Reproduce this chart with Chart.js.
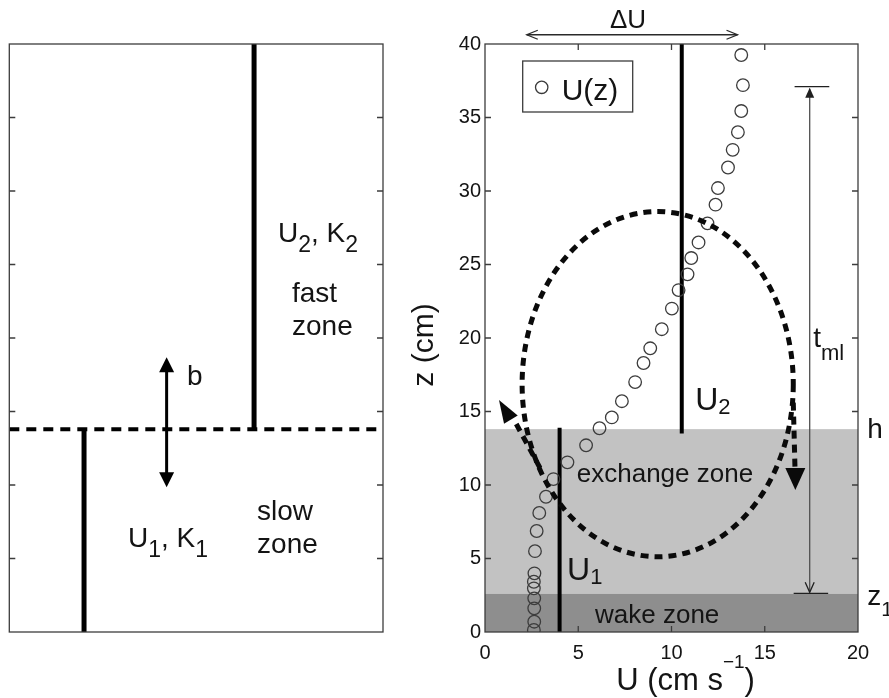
<!DOCTYPE html>
<html>
<head>
<meta charset="utf-8">
<script src="https://cdn.jsdelivr.net/npm/chart.js@4.4.1/dist/chart.umd.min.js"></script>
<style>
  html, body { margin: 0; padding: 0; background: #ffffff; }
  #wrap { position: relative; width: 889px; height: 698px; overflow: hidden; }
  canvas { position: absolute; top: 0; }
  #scheme { left: 0; }
  #profile { left: 400px; }
</style>
</head>
<body>
<div id="wrap">
  <canvas id="scheme" width="400" height="698"></canvas>
  <canvas id="profile" width="489" height="698"></canvas>
</div>
<script>
const FAMILY = '"Liberation Sans", Arial, Helvetica, sans-serif';
const INK = '#141414';
const FRAME = '#3c3c3c';

// ---- measured velocity profile U(z) ----
const profileU = [13.74, 13.83, 13.74, 13.56, 13.28, 13.03, 12.49, 12.36, 11.93, 11.45,
                  11.06, 10.86, 10.38, 10.02, 9.48, 8.86, 8.50, 8.05, 7.34, 6.80,
                  6.14, 5.42, 4.42, 3.67, 3.27, 2.91, 2.77, 2.68, 2.65, 2.62,
                  2.62, 2.64, 2.64, 2.64, 2.62];
const profileZ = [39.25, 37.20, 35.44, 34.00, 32.80, 31.60, 30.20, 29.07, 27.80, 26.50,
                  25.44, 24.33, 23.26, 22.00, 20.60, 19.30, 18.30, 17.00, 15.70, 14.60,
                  13.86, 12.70, 11.54, 10.40, 9.20, 8.10, 6.87, 5.50, 3.99, 3.42,
                  2.97, 2.29, 1.61, 0.70, 0.14];

// ---- two-layer velocities (cm/s) and the depth range of each ----
const layerU     = [4.0, 10.55];
const layerZFrom = [0, 13.5];
const layerZTo   = [13.9, 40];

// ---- zone boundaries (cm) ----
const canopyH = 13.8;   // h
const wakeZ1  = 2.6;    // z1

// ---- axis ticks ----
const uTicks = [0, 5, 10, 15, 20];
const zTicks = [0, 5, 10, 15, 20, 25, 30, 35, 40];

// ---- schematic two-zone model (left panel, arbitrary units 0-20) ----
const schemeU     = [4.0, 13.1];
const schemeZFrom = [0, 13.8];
const schemeZTo   = [13.8, 40];
const interfaceZ  = 13.8;

// ---------- drawing helpers ----------
function rich(ctx, x, y, parts, size, opt = {}) {
  const subScale = opt.subScale || 0.72, subShift = opt.subShift || 0.28;
  const supScale = opt.supScale || 0.6, supShift = opt.supShift || 0.72;
  const fontOf = k => `${k === 0 ? size : Math.round(size * (k === 1 ? subScale : supScale))}px ${FAMILY}`;
  let w = 0;
  parts.forEach(([t, k]) => { ctx.font = fontOf(k); w += ctx.measureText(t).width; });
  let cx = opt.align === 'center' ? x - w / 2 : x;
  ctx.textAlign = 'left';
  ctx.textBaseline = 'alphabetic';
  ctx.fillStyle = INK;
  parts.forEach(([t, k]) => {
    ctx.font = fontOf(k);
    const dy = k === 1 ? size * subShift : k === 2 ? -size * supShift : 0;
    ctx.fillText(t, cx, y + dy);
    cx += ctx.measureText(t).width;
  });
}

function filledHead(ctx, tx, ty, dx, dy, len, half) {
  const n = Math.hypot(dx, dy), ux = dx / n, uy = dy / n;
  const bx = tx - ux * len, by = ty - uy * len;
  ctx.beginPath();
  ctx.moveTo(tx, ty);
  ctx.lineTo(bx - uy * half, by + ux * half);
  ctx.lineTo(bx + uy * half, by - ux * half);
  ctx.closePath();
  ctx.fill();
}

function openHead(ctx, tx, ty, dx, dy, len, half) {
  const n = Math.hypot(dx, dy), ux = dx / n, uy = dy / n;
  const bx = tx - ux * len, by = ty - uy * len;
  ctx.beginPath();
  ctx.moveTo(bx - uy * half, by + ux * half);
  ctx.lineTo(tx, ty);
  ctx.lineTo(bx + uy * half, by - ux * half);
  ctx.stroke();
}

function frameAndTicks(ctx, area, xs, ys, xVals, yVals) {
  ctx.save();
  ctx.strokeStyle = FRAME;
  ctx.lineWidth = 1.3;
  const L = 6;
  ctx.beginPath();
  (yVals || []).forEach(v => {
    const py = ys.getPixelForValue(v);
    ctx.moveTo(area.left, py); ctx.lineTo(area.left + L, py);
    ctx.moveTo(area.right, py); ctx.lineTo(area.right - L, py);
  });
  (xVals || []).forEach(v => {
    const px = xs.getPixelForValue(v);
    ctx.moveTo(px, area.bottom); ctx.lineTo(px, area.bottom - L);
    ctx.moveTo(px, area.top); ctx.lineTo(px, area.top + L);
  });
  ctx.stroke();
  ctx.strokeRect(area.left, area.top, area.right - area.left, area.bottom - area.top);
  ctx.restore();
}

const segment = (u, z0, z1) => [{ x: u, y: z0 }, { x: u, y: z1 }];

// ---------- left panel: two-zone schematic ----------
const schemePlugin = {
  id: 'schemeDecor',
  afterDatasetsDraw(chart) {
    const { ctx, chartArea: a, scales: { x, y } } = chart;
    const P = (u, z) => [x.getPixelForValue(u), y.getPixelForValue(z)];
    ctx.save();
    // exchange length b
    const [bx, bTop] = P(8.42, 18.69);
    const [, bBot] = P(8.42, 9.84);
    ctx.strokeStyle = '#000'; ctx.fillStyle = '#000'; ctx.lineWidth = 3;
    ctx.beginPath(); ctx.moveTo(bx, bTop + 12); ctx.lineTo(bx, bBot - 12); ctx.stroke();
    filledHead(ctx, bx, bTop, 0, -1, 15, 7.5);
    filledHead(ctx, bx, bBot, 0, 1, 15, 7.5);
    // labels
    const T = (u, z, parts, size, opt) => { const [px, py] = P(u, z); rich(ctx, px, py, parts, size, opt); };
    const subOpt = { subScale: 0.82, subShift: 0.36 };
    T(14.38, 26.55, [['U', 0], ['2', 1], [', K', 0], ['2', 1]], 28, subOpt);
    T(15.13, 22.47, [['fast', 0]], 28);
    T(15.13, 20.20, [['zone', 0]], 28);
    T(9.51, 16.80, [['b', 0]], 28);
    T(6.35, 5.80, [['U', 0], ['1', 1], [', K', 0], ['1', 1]], 28, subOpt);
    T(13.26, 7.62, [['slow', 0]], 28);
    T(13.26, 5.39, [['zone', 0]], 28);
    ctx.restore();
    frameAndTicks(ctx, a, x, y, null, zTicks.slice(1, -1));
  }
};

new Chart(document.getElementById('scheme'), {
  type: 'scatter',
  data: {
    datasets: [
      ...schemeU.map((u, i) => ({
        data: segment(u, schemeZFrom[i], schemeZTo[i]),
        showLine: true, borderColor: '#000', borderWidth: 5, pointRadius: 0
      })),
      {
        data: [{ x: 0, y: interfaceZ }, { x: 20, y: interfaceZ }],
        showLine: true, borderColor: '#000', borderWidth: 4, borderDash: [10, 7], pointRadius: 0
      }
    ]
  },
  options: {
    responsive: false, animation: false, devicePixelRatio: 1,
    layout: { padding: { left: 9.3, right: 17, top: 44, bottom: 66 } },
    scales: {
      x: { type: 'linear', min: 0, max: 20, display: false },
      y: { type: 'linear', min: 0, max: 40, display: false }
    },
    plugins: { legend: { display: false }, tooltip: { enabled: false } }
  },
  plugins: [schemePlugin]
});

// ---------- right panel: measured profile ----------
const profilePlugin = {
  id: 'profileDecor',
  beforeDatasetsDraw(chart) {
    const { ctx, chartArea: a, scales: { x, y } } = chart;
    const yh = y.getPixelForValue(canopyH), yz1 = y.getPixelForValue(wakeZ1), y0 = y.getPixelForValue(0);
    ctx.save();
    ctx.fillStyle = '#c2c2c2';
    ctx.fillRect(a.left, yh, a.right - a.left, yz1 - yh);
    ctx.fillStyle = '#8e8e8e';
    ctx.fillRect(a.left, yz1, a.right - a.left, y0 - yz1);
    ctx.restore();
  },
  afterDatasetsDraw(chart) {
    const { ctx, chartArea: a, scales: { x, y } } = chart;
    const P = (u, z) => [x.getPixelForValue(u), y.getPixelForValue(z)];
    ctx.save();

    // circulation cell (dashed loop) with its two arrows
    const [cx, cy] = P(9.26, 16.86);
    const rx = Math.abs(x.getPixelForValue(9.26 + 7.27) - cx);
    const ry = Math.abs(y.getPixelForValue(16.86 + 11.74) - cy);
    ctx.strokeStyle = '#0a0a0a'; ctx.fillStyle = '#0a0a0a';
    ctx.lineWidth = 5; ctx.setLineDash([8, 6]);
    ctx.beginPath(); ctx.ellipse(cx, cy, rx, ry, 0, 0, Math.PI * 2); ctx.stroke();
    // downward branch on the right
    const [r0x, r0y] = P(16.53, 15.6), [r1x, r1y] = P(16.62, 11.2), [rtx, rty] = P(16.64, 9.66);
    ctx.beginPath(); ctx.moveTo(r0x, r0y); ctx.lineTo(r1x, r1y); ctx.stroke();
    // upward branch on the left
    const [l0x, l0y] = P(2.95, 11.16), [l1x, l1y] = P(1.55, 14.45), [ltx, lty] = P(0.75, 15.78);
    ctx.beginPath(); ctx.moveTo(l0x, l0y); ctx.lineTo(l1x, l1y); ctx.stroke();
    ctx.setLineDash([]);
    filledHead(ctx, rtx, rty, 0, 1, 22, 10);
    filledHead(ctx, ltx, lty, ltx - l0x, lty - l0y, 23, 8);

    // legend box
    ctx.fillStyle = '#ffffff';
    ctx.fillRect(a.left + 37.7, a.top + 17, 110, 51);
    ctx.strokeStyle = FRAME; ctx.lineWidth = 1.3;
    ctx.strokeRect(a.left + 37.7, a.top + 17, 110, 51);
    ctx.strokeStyle = '#3a3a3a'; ctx.lineWidth = 1.3;
    ctx.beginPath(); ctx.arc(a.left + 56.7, a.top + 43.3, 6.2, 0, Math.PI * 2); ctx.stroke();
    rich(ctx, a.left + 76.7, a.top + 56, [['U(z)', 0]], 30);

    // ΔU span above the axes
    ctx.strokeStyle = '#2a2a2a'; ctx.lineWidth = 1.3;
    const [du0, duy] = P(2.24, 40.63), [du1] = P(13.54, 40.63);
    ctx.beginPath(); ctx.moveTo(du0, duy); ctx.lineTo(du1, duy); ctx.stroke();
    openHead(ctx, du0, duy, -1, 0, 11, 4.5);
    openHead(ctx, du1, duy, 1, 0, 11, 4.5);
    const [dux, duty] = P(7.67, 41.09);
    rich(ctx, dux, duty, [['\u0394U', 0]], 26, { align: 'center' });

    // mixing-layer thickness t_ml between z1 and the top bar
    ctx.strokeStyle = '#505050'; ctx.fillStyle = '#202020'; ctx.lineWidth = 1.3;
    const [tx, tTop] = P(17.41, 37.1), [, tBot] = P(17.41, wakeZ1 + 0.03);
    ctx.beginPath(); ctx.moveTo(tx, tTop + 2); ctx.lineTo(tx, tBot - 2); ctx.stroke();
    ctx.strokeStyle = '#202020';
    const [tb0] = P(16.6, 0), [tb1] = P(18.46, 0);
    ctx.beginPath(); ctx.moveTo(tb0, tTop); ctx.lineTo(tb1, tTop); ctx.stroke();
    const [bb0] = P(16.55, 0), [bb1] = P(18.4, 0);
    ctx.beginPath(); ctx.moveTo(bb0, tBot); ctx.lineTo(bb1, tBot); ctx.stroke();
    filledHead(ctx, tx, tTop + 1, 0, -1, 10, 4.5);
    openHead(ctx, tx, tBot - 1, 0, 1, 10, 4.5);

    // labels inside and beside the axes
    const T = (u, z, parts, size, opt) => { const [px, py] = P(u, z); rich(ctx, px, py, parts, size, opt); };
    T(11.27, 15.10, [['U', 0], ['2', 1]], 32, { subScale: 0.7, subShift: 0.12 });
    T(4.40, 3.54, [['U', 0], ['1', 1]], 32, { subScale: 0.7, subShift: 0.12 });
    T(4.92, 10.22, [['exchange zone', 0]], 26);
    T(5.90, 0.59, [['wake zone', 0]], 26);
    T(20.5, 13.2, [['h', 0]], 28);
    T(20.5, 1.84, [['z', 0], ['1', 1]], 28, { subScale: 0.75, subShift: 0.4 });
    T(17.6, 19.4, [['t', 0], ['ml', 1]], 28, { subScale: 0.8, subShift: 0.48 });

    ctx.restore();
    frameAndTicks(ctx, a, x, y, uTicks.slice(1, -1), zTicks.slice(1, -1));

    // axis titles
    ctx.save();
    rich(ctx, (a.left + a.right) / 2 + 14, a.bottom + 58, [['U (cm s', 0], ['\u22121', 2], [')', 0]], 31,
         { align: 'center', supScale: 0.6, supShift: 0.7 });
    ctx.translate(a.left - 52, (a.top + a.bottom) / 2 + 7);
    ctx.rotate(-Math.PI / 2);
    rich(ctx, 0, 0, [['z (cm)', 0]], 30, { align: 'center' });
    ctx.restore();
  }
};

const tickFont = { family: FAMILY, size: 20 };
new Chart(document.getElementById('profile'), {
  type: 'scatter',
  data: {
    datasets: [
      {
        label: 'U(z)',
        data: profileU.map((u, i) => ({ x: u, y: profileZ[i] })),
        pointStyle: 'circle', pointRadius: 6.3,
        pointBorderColor: '#3c3c3c', pointBorderWidth: 1.3,
        pointBackgroundColor: 'rgba(0,0,0,0)', showLine: false
      },
      ...layerU.map((u, i) => ({
        label: 'U' + (i + 1),
        data: segment(u, layerZFrom[i], layerZTo[i]),
        showLine: true, borderColor: '#000', borderWidth: 4, pointRadius: 0
      }))
    ]
  },
  options: {
    responsive: false, animation: false, devicePixelRatio: 1,
    layout: { padding: { left: 0, right: 31, top: 44, bottom: 0 } },
    scales: {
      x: {
        type: 'linear', min: 0, max: 20, position: 'bottom',
        afterBuildTicks: s => { s.ticks = uTicks.map(v => ({ value: v })); },
        afterFit: s => { s.height = 66; },
        grid: { display: false, drawTicks: false }, border: { display: false },
        ticks: { font: tickFont, color: INK, padding: 9, maxRotation: 0, autoSkip: false }
      },
      y: {
        type: 'linear', min: 0, max: 40,
        afterBuildTicks: s => { s.ticks = zTicks.map(v => ({ value: v })); },
        afterFit: s => { s.width = 85; },
        grid: { display: false, drawTicks: false }, border: { display: false },
        ticks: { font: tickFont, color: INK, padding: 4, autoSkip: false }
      }
    },
    plugins: { legend: { display: false }, tooltip: { enabled: false } }
  },
  plugins: [profilePlugin]
});
</script>
</body>
</html>
